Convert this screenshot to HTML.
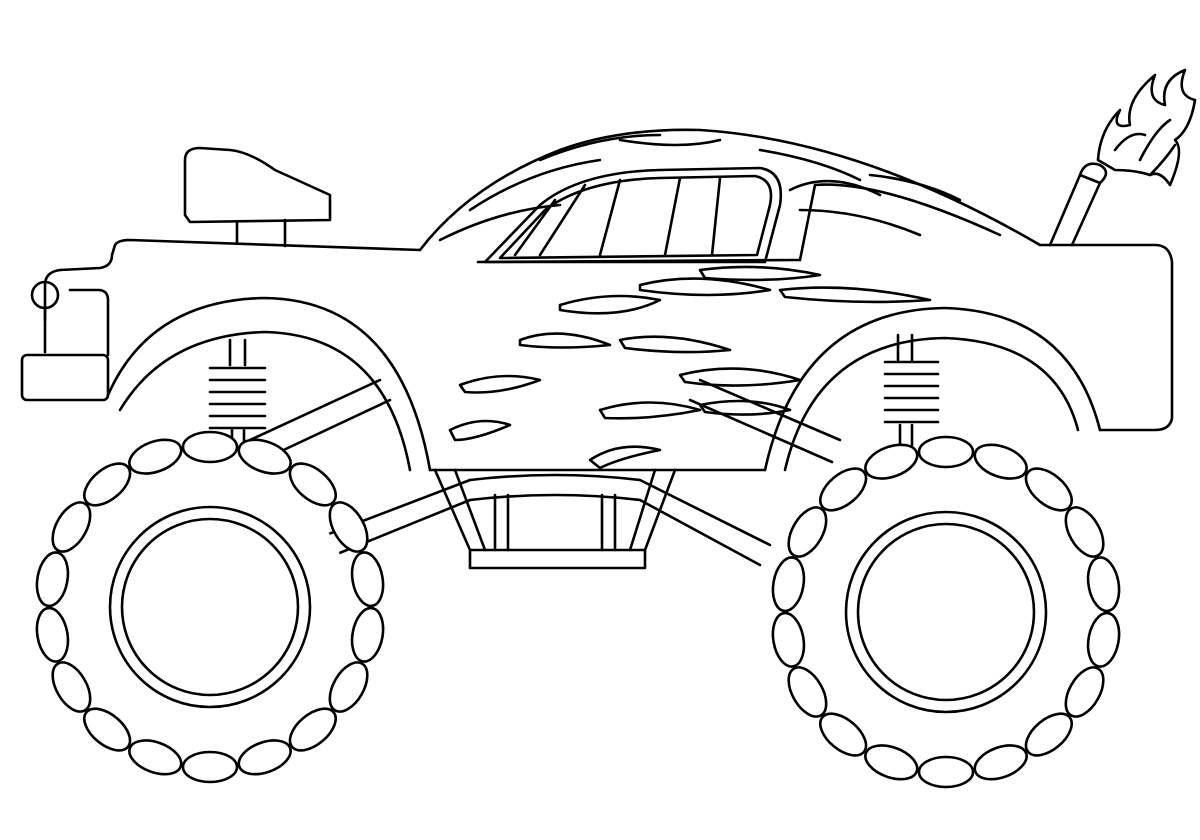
<!DOCTYPE html>
<html><head><meta charset="utf-8"><style>
html,body{margin:0;padding:0;background:#fff;}
svg{display:block;}
</style></head><body>
<svg width="1200" height="840" viewBox="0 0 1200 840" xmlns="http://www.w3.org/2000/svg">
<defs>
<ellipse id="lugL" cx="210" cy="447" rx="27" ry="15" fill="#fff" stroke="#000" stroke-width="2.6"/>
<ellipse id="lugR" cx="946" cy="452" rx="27" ry="15" fill="#fff" stroke="#000" stroke-width="2.6"/>
</defs>
<g fill="none" stroke="#000" stroke-width="2.6" stroke-linejoin="round" stroke-linecap="round">
<path d="M250 440 L380 380 M258 462 L390 400"/>
<path d="M300 545 L470 480 M310 565 L470 500"/>
<path d="M840 440 L700 380 M832 462 L690 400"/>
<path d="M770 545 L640 480 M760 565 L640 500"/>
<path d="M435 470 L470 550 M455 470 L485 550 M675 470 L645 550 M655 470 L630 550"/>
<path d="M495 495 L495 550 M508 495 L508 550 M615 495 L615 550 M602 495 L602 550"/>
<path d="M470 480 Q555 470 640 480 M470 500 Q555 490 640 500"/>
<rect x="470" y="550" width="175" height="18"/>
<path d="M230 340 L230 365 M245 340 L245 365 M232 430 L232 445 M244 430 L244 445"/>
<path d="M210 368 H265 M210 380 H265 M210 392 H265 M210 404 H265 M210 416 H265 M210 428 H265"/>
<path d="M898 335 L898 360 M912 335 L912 360 M900 425 L900 445 M912 425 L912 445"/>
<path d="M885 362 H938 M885 374 H938 M885 386 H938 M885 398 H938 M885 410 H938 M885 422 H938"/>
<path d="M108 355 L108 300 Q108 290 98 290 L70 290 M60 270 L100 268 Q112 266 112 255 L115 245 Q118 240 130 240 L420 250"/>
<path d="M60 270 Q45 272 45 285 L45 320"/>
<circle cx="45" cy="295" r="13"/>
<path d="M45 308 L45 352"/>
<rect x="22" y="355" width="86" height="45" rx="5"/>
<path d="M420 250 Q470 185 560 150 Q620 128 700 130 Q860 140 1040 245"/>
<path d="M1040 245 L1155 245 Q1170 245 1172 262 L1172 418 Q1170 430 1155 430 L1100 430"/>
<path d="M108 395 Q150 300 265 298 Q400 300 430 470"/>
<path d="M120 410 Q165 335 265 332 Q385 335 410 470"/>
<path d="M430 470 L765 470"/>
<path d="M765 470 Q800 310 945 308 Q1070 312 1100 430"/>
<path d="M785 470 Q815 340 945 338 Q1055 342 1078 430"/>
<path d="M185 215 L185 160 Q185 148 200 148 L230 150 Q250 152 275 170 L330 195 L330 220 L190 222 Z"/>
<path d="M237 222 L237 242 M285 220 L285 246"/>
<path d="M485 262 L540 205 Q580 172 660 170 L760 168 Q785 172 780 205 L765 262 Z"/>
<path d="M500 258 L545 210 Q585 180 660 178 L755 176 Q775 180 770 205 L757 255 Z"/>
<path d="M515 255 L555 200 M540 255 L585 185 M600 255 L620 180 M665 255 L680 178 M712 255 L720 178"/>
<path d="M478 262 L800 260"/>
<path d="M800 260 L815 185 Q880 180 1000 235"/>
<path d="M440 240 Q500 210 560 205 M470 210 Q530 170 600 160 M540 160 Q600 135 660 135 M620 140 Q680 150 720 140 M760 150 Q820 160 860 180 M870 175 Q920 180 960 200 M790 190 Q830 170 880 195 M800 210 Q860 210 920 235"/>
<path d="M560 305 Q610 290 660 300 Q620 320 560 310 Z"/>
<path d="M640 285 Q700 270 770 290 Q710 300 640 290 Z"/>
<path d="M700 270 Q760 262 820 275 Q770 283 705 278 Z"/>
<path d="M780 290 Q850 282 930 300 Q860 305 785 297 Z"/>
<path d="M520 340 Q560 325 610 345 Q560 350 520 345 Z"/>
<path d="M460 385 Q500 370 540 380 Q500 395 465 392 Z"/>
<path d="M620 340 Q670 330 730 350 Q680 355 625 348 Z"/>
<path d="M680 375 Q740 360 800 380 Q740 390 685 382 Z"/>
<path d="M600 410 Q650 395 700 410 Q650 420 605 418 Z"/>
<path d="M700 405 Q750 395 790 410 Q750 418 705 412 Z"/>
<path d="M450 430 Q480 415 510 425 Q475 440 455 440 Z"/>
<path d="M590 460 Q620 440 660 450 Q620 458 600 468 Z"/>
<path d="M1050 245 L1080 175 L1100 183 L1072 245"/>
<path d="M1080 175 Q1085 160 1100 165 Q1112 172 1100 183"/>
<path d="M1098 160 Q1100 130 1120 110 Q1110 130 1130 125 Q1125 100 1155 75 Q1145 100 1165 105 Q1160 80 1185 70 Q1175 95 1195 100 Q1190 130 1175 140 Q1185 150 1170 185 Q1160 170 1150 175 Q1135 170 1115 170 Z"/>
<path d="M1115 150 Q1130 130 1145 135 M1140 160 Q1155 130 1170 120 M1150 175 Q1165 160 1175 145"/>
</g>
<g>
<circle cx="210" cy="607" r="140" fill="#fff"/>
<use href="#lugL"/>
<use href="#lugL" transform="rotate(20 210 607)"/>
<use href="#lugL" transform="rotate(40 210 607)"/>
<use href="#lugL" transform="rotate(60 210 607)"/>
<use href="#lugL" transform="rotate(80 210 607)"/>
<use href="#lugL" transform="rotate(100 210 607)"/>
<use href="#lugL" transform="rotate(120 210 607)"/>
<use href="#lugL" transform="rotate(140 210 607)"/>
<use href="#lugL" transform="rotate(160 210 607)"/>
<use href="#lugL" transform="rotate(180 210 607)"/>
<use href="#lugL" transform="rotate(200 210 607)"/>
<use href="#lugL" transform="rotate(220 210 607)"/>
<use href="#lugL" transform="rotate(240 210 607)"/>
<use href="#lugL" transform="rotate(260 210 607)"/>
<use href="#lugL" transform="rotate(280 210 607)"/>
<use href="#lugL" transform="rotate(300 210 607)"/>
<use href="#lugL" transform="rotate(320 210 607)"/>
<use href="#lugL" transform="rotate(340 210 607)"/>
<g fill="#fff" stroke="#000" stroke-width="2.6">
<circle cx="210" cy="607" r="100"/>
<circle cx="210" cy="607" r="88"/>
</g>
</g>
<g>
<circle cx="946" cy="612" r="140" fill="#fff"/>
<use href="#lugR"/>
<use href="#lugR" transform="rotate(20 946 612)"/>
<use href="#lugR" transform="rotate(40 946 612)"/>
<use href="#lugR" transform="rotate(60 946 612)"/>
<use href="#lugR" transform="rotate(80 946 612)"/>
<use href="#lugR" transform="rotate(100 946 612)"/>
<use href="#lugR" transform="rotate(120 946 612)"/>
<use href="#lugR" transform="rotate(140 946 612)"/>
<use href="#lugR" transform="rotate(160 946 612)"/>
<use href="#lugR" transform="rotate(180 946 612)"/>
<use href="#lugR" transform="rotate(200 946 612)"/>
<use href="#lugR" transform="rotate(220 946 612)"/>
<use href="#lugR" transform="rotate(240 946 612)"/>
<use href="#lugR" transform="rotate(260 946 612)"/>
<use href="#lugR" transform="rotate(280 946 612)"/>
<use href="#lugR" transform="rotate(300 946 612)"/>
<use href="#lugR" transform="rotate(320 946 612)"/>
<use href="#lugR" transform="rotate(340 946 612)"/>
<g fill="#fff" stroke="#000" stroke-width="2.6">
<circle cx="946" cy="612" r="100"/>
<circle cx="946" cy="612" r="88"/>
</g>
</g>
</svg>
</body></html>
